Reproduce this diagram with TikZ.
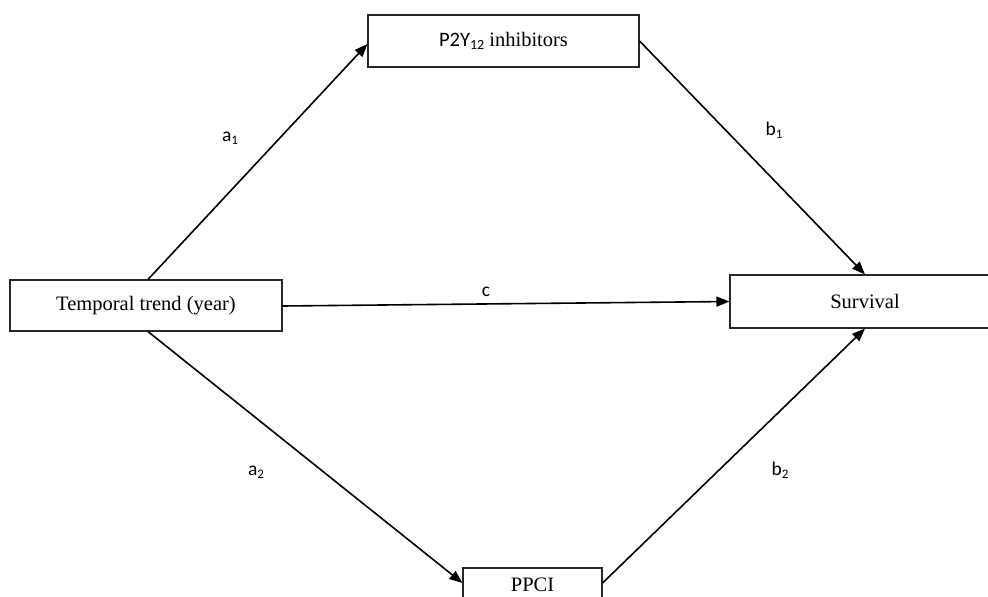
\documentclass[tikz,border=0pt]{standalone}
\usepackage{fontspec}
\setmainfont{Liberation Serif}
\newfontfamily\lab{Carlito}
\usetikzlibrary{arrows.meta,calc}
\newcommand{\labsub}[2]{{\lab #1\raisebox{-0.35ex}{\fontsize{13}{13}\selectfont #2}}}
\tikzset{
  box/.style={draw=black!85, line width=1.1pt, fill=white, inner sep=0pt, font=\fontsize{20.5}{22}\selectfont},
  conn/.style={line width=1.6pt, -{Triangle[length=13pt,width=10pt]}},
  lbl/.style={font=\fontsize{19.5}{20}\selectfont, inner sep=0pt}
}
\begin{document}
\begin{tikzpicture}[x=1pt,y=-1pt]
\useasboundingbox[fill=white] (0,0) rectangle (988,597);
\node[box, minimum width=272pt, minimum height=51pt] (tt) at (146,305.5) {Temporal trend (year)};
\node[box, minimum width=271pt, minimum height=52pt] (p2y) at (503.5,41) {{\lab P2Y\raisebox{-0.35ex}{\fontsize{14}{14}\selectfont 12}} inhibitors};
\node[box, minimum width=270pt, minimum height=53pt] (surv) at (865,301.5) {Survival};
\node[box, minimum width=139pt, minimum height=34pt] (ppci) at (532.5,585) {PPCI};
\draw[conn] ($(tt.north)+(2,0)$) -- ($(p2y.west)+(0,3)$);
\draw[conn] (p2y.east) -- (surv.north);
\draw[conn] ($(tt.east)+(0,0.5)$) -- (surv.west);
\draw[conn] ($(tt.south)+(2,0)$) -- ($(ppci.west)+(0,-2)$);
\draw[conn] ($(ppci.east)+(0,-2)$) -- (surv.south);
\node[lbl] (a1) at (230,138) {\labsub{a}{1}};
\node[lbl] (b1) at (774,130) {\labsub{b}{1}};
\node[lbl] (a2) at (256,472) {\labsub{a}{2}};
\node[lbl] (b2) at (780,470) {\labsub{b}{2}};
\node[lbl] (c) at (486,292) {\lab c};
\end{tikzpicture}
\end{document}
